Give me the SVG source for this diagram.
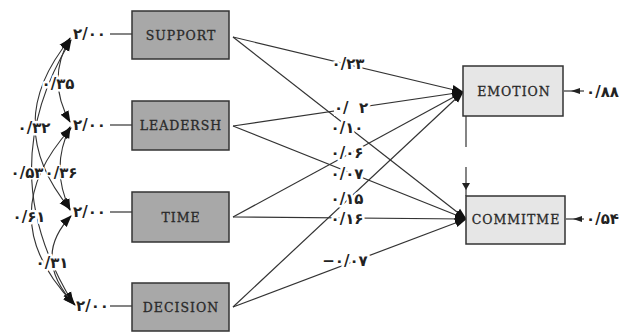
<svg xmlns="http://www.w3.org/2000/svg" width="626" height="332" viewBox="0 0 626 332">
<defs>
<marker id="ah" markerUnits="userSpaceOnUse" markerWidth="12" markerHeight="10" viewBox="0 0 12 10" refX="11" refY="5" orient="auto-start-reverse">
<path d="M0,0.5 L12,5 L0,9.5 Z" fill="#111"/>
</marker>
<style>
.ln{stroke:#333;stroke-width:1.2;fill:none}
.arc{stroke:#333;stroke-width:1.1;fill:none}
.bx1{fill:#a8a8a8;stroke:#333;stroke-width:1.5}
.bx2{fill:#e6e6e6;stroke:#333;stroke-width:1.5}
.nm{font-family:"DejaVu Serif","Liberation Serif",serif;font-size:12.5px;fill:#2a2a2a;text-anchor:middle;letter-spacing:1px;stroke:#2a2a2a;stroke-width:0.3}
.num{font-family:"DejaVu Sans",sans-serif;font-size:15px;font-weight:bold;fill:#222;direction:ltr}
.lab{text-anchor:middle;paint-order:stroke;stroke:#fff;stroke-width:5px;stroke-linejoin:round}
.lab2{text-anchor:middle;paint-order:stroke;stroke:#fff;stroke-width:3px;stroke-linejoin:round}
</style>
</defs>
<g id="connectors">
<path class="arc" d="M70,122 Q46,80 70,38" marker-start="url(#ah)" marker-end="url(#ah)"/>
<path class="arc" d="M70,209 Q0,124 70,39" marker-start="url(#ah)" marker-end="url(#ah)"/>
<path class="arc" d="M73,303 Q-9,170 71,40" marker-start="url(#ah)" marker-end="url(#ah)"/>
<path class="arc" d="M70,210 Q50,168 70,127" marker-start="url(#ah)" marker-end="url(#ah)"/>
<path class="arc" d="M74,304 Q-10,217 71,128" marker-start="url(#ah)" marker-end="url(#ah)"/>
<path class="arc" d="M75,305 Q31,258 71,216" marker-start="url(#ah)" marker-end="url(#ah)"/>
<line class="ln" x1="110" y1="34" x2="132" y2="34"/>
<line class="ln" x1="110" y1="125" x2="132" y2="125"/>
<line class="ln" x1="110" y1="212" x2="132" y2="212"/>
<line class="ln" x1="110" y1="306" x2="132" y2="306"/>
<line class="ln" x1="233" y1="37" x2="463" y2="92" marker-end="url(#ah)"/>
<line class="ln" x1="233" y1="37" x2="466" y2="219" marker-end="url(#ah)"/>
<line class="ln" x1="233" y1="126" x2="463" y2="92" marker-end="url(#ah)"/>
<line class="ln" x1="233" y1="126" x2="466" y2="219" marker-end="url(#ah)"/>
<line class="ln" x1="233" y1="217" x2="463" y2="92" marker-end="url(#ah)"/>
<line class="ln" x1="233" y1="217" x2="466" y2="219" marker-end="url(#ah)"/>
<line class="ln" x1="233" y1="307" x2="463" y2="92" marker-end="url(#ah)"/>
<line class="ln" x1="233" y1="307" x2="466" y2="219" marker-end="url(#ah)"/>
<line class="ln" x1="466" y1="116" x2="466" y2="147"/>
<line class="ln" x1="466" y1="167" x2="466" y2="196"/>
<path d="M462,183 L470,183 L466,190 Z" fill="#222"/>
<line class="ln" x1="584" y1="91" x2="564" y2="91"/>
<path d="M580,88 L580,94 L571,91 Z" fill="#222"/>
<line class="ln" x1="584" y1="219" x2="566" y2="219"/>
<path d="M582,216 L582,222 L573,219 Z" fill="#222"/>
</g>
<g id="arc-labels">
<text class="num lab" x="58" y="89">۰/۳۵</text>
<text class="num lab" x="34" y="133">۰/۳۲</text>
<text class="num lab2" x="27" y="178">۰/۵۳</text>
<text class="num lab2" x="61" y="178">۰/۳۶</text>
<text class="num lab" x="29" y="222">۰/۶۱</text>
<text class="num lab" x="52" y="268">۰/۳۱</text>
</g>
<g id="var-labels">
<text class="num" x="73" y="39">۲/۰۰</text>
<text class="num" x="73" y="130">۲/۰۰</text>
<text class="num" x="73" y="217">۲/۰۰</text>
<text class="num" x="76" y="311">۲/۰۰</text>
</g>
<g id="path-labels">
<text class="num lab" x="348" y="69">۰/۲۳</text>
<rect x="334" y="101" width="34" height="15" fill="#fff"/>
<text class="num lab" x="351" y="113" xml:space="preserve">۰/  ۲</text>
<text class="num lab" x="347" y="133">۰/۱۰</text>
<text class="num lab" x="347" y="158">۰/۰۶</text>
<text class="num lab" x="347" y="179">۰/۰۷</text>
<text class="num lab" x="347" y="204">۰/۱۵</text>
<text class="num lab" x="347" y="224">۰/۱۶</text>
<text class="num lab" x="345" y="266">−۰/۰۷</text>
<text class="num" x="586" y="97">۰/۸۸</text>
<text class="num" x="586" y="224">۰/۵۴</text>
</g>
<g id="node-support"><rect class="bx1" x="132" y="11" width="97" height="48"/><text class="nm" x="181" y="40">SUPPORT</text></g>
<g id="node-leadersh"><rect class="bx1" x="132" y="101" width="97" height="49"/><text class="nm" x="181" y="130">LEADERSH</text></g>
<g id="node-time"><rect class="bx1" x="132" y="192" width="97" height="50"/><text class="nm" x="181" y="222">TIME</text></g>
<g id="node-decision"><rect class="bx1" x="132" y="283" width="97" height="48"/><text class="nm" x="181" y="312">DECISION</text></g>
<g id="node-emotion"><rect class="bx2" x="463" y="66" width="100" height="50"/><text class="nm" x="514" y="96">EMOTION</text></g>
<g id="node-commitme"><rect class="bx2" x="466" y="196" width="99" height="48"/><text class="nm" x="516" y="224">COMMITME</text></g>
</svg>
